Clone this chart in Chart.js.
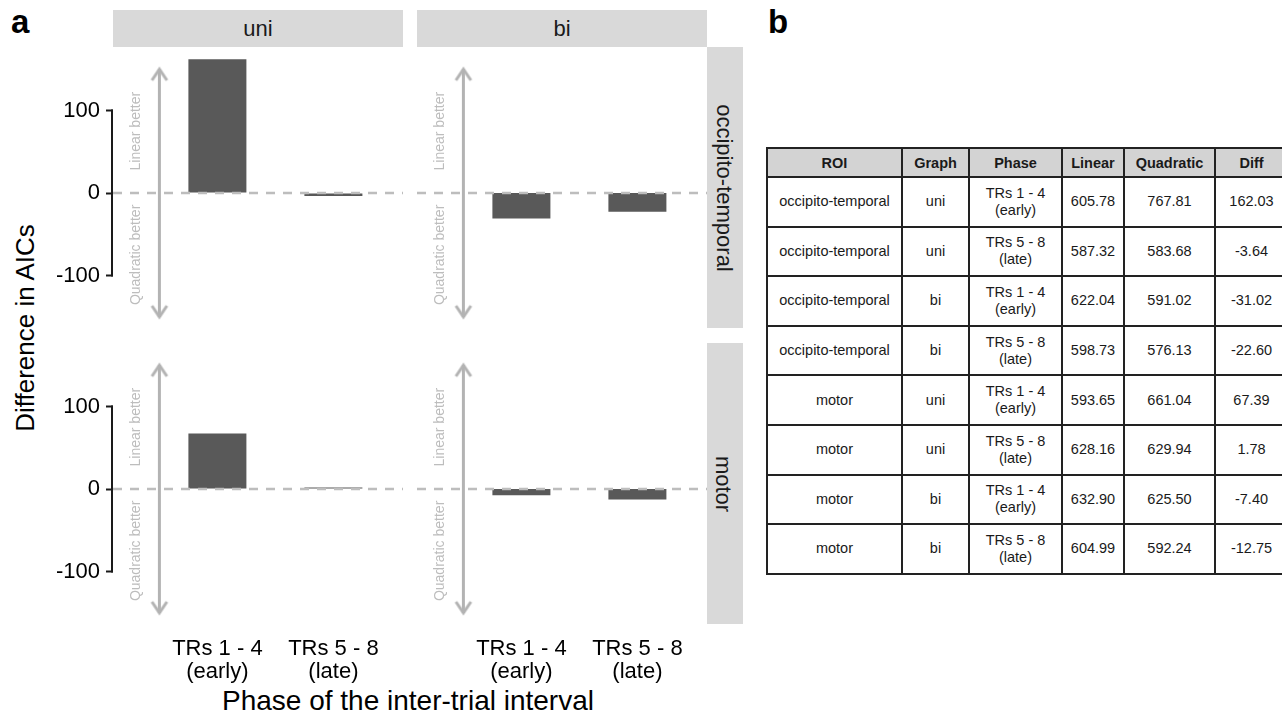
<!DOCTYPE html>
<html>
<head>
<meta charset="utf-8">
<script src="https://cdn.jsdelivr.net/npm/chart.js@4.4.1/dist/chart.umd.min.js"></script>
<style>
body { margin: 0; background: #fff; font-family: 'Liberation Sans', Arial, Helvetica, sans-serif; }
#fig { position: relative; width: 1282px; height: 716px; overflow: hidden; }
#fig canvas { position: absolute; }
.tag { position: absolute; font-size: 33px; font-weight: bold; line-height: 33px; color: #000; }
.strip { position: absolute; background: #d9d9d9; color: #1a1a1a; font-size: 22px;
         display: flex; align-items: center; justify-content: center; }
.strip.v span { transform: rotate(90deg); white-space: nowrap; margin-left: -3px; }
.title { position: absolute; color: #000; text-align: center; white-space: nowrap; }
#tbl { position: absolute; left: 766px; top: 147px; width: 521px; border-collapse: collapse; table-layout: fixed;
       font-size: 14.5px; color: #1a1a1a; }
#tbl th, #tbl td { border: 2px solid #222; text-align: center; padding: 0; }
#tbl th { background: #d3d3d3; font-weight: bold; }
#tbl tr.head { height: 29px; }
#tbl tr.row { height: 49.6px; }
#tbl td { line-height: 17px; }
</style>
</head>
<body>
<div id="fig">
  <div class="tag" style="left:11px; top:5px;">a</div>
  <div class="tag" style="left:768px; top:5px;">b</div>
  <div class="title" style="left:208px; top:686px; width:400px; line-height:30px; font-size:28px;">Phase of the inter-trial interval</div>
  <div class="title" style="left:-175px; top:313px; width:400px; line-height:30px; font-size:26px; transform:rotate(-90deg);">Difference in AICs</div>
  <table id="tbl"></table>
</div>

<script>
// values (panel b table gives the exact numbers)
const rois = ['occipito-temporal', 'motor'];
const graphs = ['uni', 'bi'];
const phaseTicks = [['TRs 1 - 4', '(early)'], ['TRs 5 - 8', '(late)']];

const tableHeader = ['ROI', 'Graph', 'Phase', 'Linear', 'Quadratic', 'Diff'];
const tableRoi = ['occipito-temporal', 'occipito-temporal', 'occipito-temporal', 'occipito-temporal',
                  'motor', 'motor', 'motor', 'motor'];
const tableGraph = ['uni', 'uni', 'bi', 'bi', 'uni', 'uni', 'bi', 'bi'];
const tablePhase = ['TRs 1 - 4<br>(early)', 'TRs 5 - 8<br>(late)', 'TRs 1 - 4<br>(early)', 'TRs 5 - 8<br>(late)',
                    'TRs 1 - 4<br>(early)', 'TRs 5 - 8<br>(late)', 'TRs 1 - 4<br>(early)', 'TRs 5 - 8<br>(late)'];
const linearAIC = [605.78, 587.32, 622.04, 598.73, 593.65, 628.16, 632.90, 604.99];
const quadraticAIC = [767.81, 583.68, 591.02, 576.13, 661.04, 629.94, 625.50, 592.24];
const aicDiff = [162.03, -3.64, -31.02, -22.60, 67.39, 1.78, -7.40, -12.75];

const yTicks = [-100, 0, 100];
const yRange = [-163.6, 177];
const xRange = [0.1, 2.6];
const barX = [1, 2];
const arrowX = 0.5;
const arrowY = [-150, 150];
const betterLabels = ['Linear better', 'Quadratic better'];
const betterX = 0.3;
const betterY = [75, -75];

// layout of the facet grid
const panelLeft = [113, 417];
const panelTop = [47, 343];
const panelW = 290, panelH = 281;
const yAxisW = 83, xAxisH = 63;
const stripH = 37, stripW = 36;
const font = "'Liberation Sans', Arial, Helvetica, sans-serif";

Chart.defaults.font.family = font;
Chart.defaults.color = '#000';

const fig = document.getElementById('fig');

// open arrow heads used as point images, tip sits on the image centre
function chevron(up) {
    const c = document.createElement('canvas');
    c.width = 30; c.height = 30;
    const g = c.getContext('2d');
    g.strokeStyle = '#b3b3b3';
    g.lineWidth = 3;
    g.beginPath();
    const d = up ? 11 : -11;
    g.moveTo(7.5, 15 + d);
    g.lineTo(15, 15);
    g.lineTo(22.5, 15 + d);
    g.stroke();
    return c;
}
const arrowHeads = [chevron(false), chevron(true)];

const panelDecor = {
    id: 'panelDecor',
    afterDatasetsDraw(chart, args, opts) {
        const { ctx, chartArea, scales } = chart;
        const x = scales.x, y = scales.y;
        ctx.save();
        ctx.fillStyle = '#bdbdbd';
        ctx.font = '14px ' + font;
        ctx.textAlign = 'center';
        ctx.textBaseline = 'middle';
        betterLabels.forEach((t, i) => {
            ctx.save();
            ctx.translate(x.getPixelForValue(betterX), y.getPixelForValue(betterY[i]));
            ctx.rotate(-Math.PI / 2);
            ctx.fillText(t, 0, 0);
            ctx.restore();
        });
        if (opts.frame) {
            ctx.strokeStyle = '#1a1a1a';
            ctx.lineWidth = 2;
            ctx.beginPath();
            ctx.moveTo(chartArea.left - 1, y.getPixelForValue(yTicks[yTicks.length - 1]) - 1);
            ctx.lineTo(chartArea.left - 1, y.getPixelForValue(yTicks[0]) + 1);
            ctx.stroke();
        }
        ctx.restore();
    }
};

rois.forEach((roi, r) => {
    graphs.forEach((graph, c) => {
        const showY = c === 0;
        const showX = r === rois.length - 1;
        const first = r * 4 + c * 2;
        const axisW = showY ? yAxisW : 0;
        const axisH = showX ? xAxisH : 0;

        const canvas = document.createElement('canvas');
        canvas.width = panelW + axisW;
        canvas.height = panelH + axisH;
        canvas.style.left = (panelLeft[c] - axisW) + 'px';
        canvas.style.top = panelTop[r] + 'px';
        fig.appendChild(canvas);

        new Chart(canvas, {
            type: 'bar',
            data: {
                datasets: [
                    {
                        data: barX.map((v, i) => ({ x: v, y: aicDiff[first + i] })),
                        backgroundColor: '#595959',
                        barPercentage: 0.5,
                        categoryPercentage: 1,
                        order: 3
                    },
                    {
                        type: 'line',
                        data: [{ x: xRange[0], y: 0 }, { x: xRange[1], y: 0 }],
                        borderColor: '#bdbdbd',
                        borderWidth: 2.5,
                        borderDash: [9, 8],
                        pointRadius: 0,
                        order: 1
                    },
                    {
                        type: 'line',
                        data: arrowY.map(v => ({ x: arrowX, y: v })),
                        borderColor: '#b3b3b3',
                        borderWidth: 3,
                        pointStyle: arrowHeads,
                        pointRadius: 4,
                        order: 0
                    }
                ]
            },
            options: {
                responsive: false,
                animation: false,
                devicePixelRatio: 1,
                layout: { padding: 0, autoPadding: false },
                plugins: {
                    legend: { display: false },
                    tooltip: { enabled: false },
                    panelDecor: { frame: showY }
                },
                scales: {
                    x: {
                        type: 'linear',
                        display: showX,
                        min: xRange[0],
                        max: xRange[1],
                        offset: false,
                        grid: { display: false, drawTicks: false },
                        border: { display: false },
                        afterBuildTicks: s => { s.ticks = barX.map(v => ({ value: v })); },
                        afterFit: s => { s.height = axisH; s.paddingLeft = 0; s.paddingRight = 0; },
                        ticks: {
                            padding: 13,
                            autoSkip: false,
                            maxRotation: 0,
                            font: { size: 22, lineHeight: 1.05 },
                            color: '#000',
                            callback: (v, i) => phaseTicks[i]
                        }
                    },
                    y: {
                        display: showY,
                        min: yRange[0],
                        max: yRange[1],
                        grid: { display: true, drawOnChartArea: false, drawTicks: true,
                                tickLength: 7, tickWidth: 2, tickColor: '#1a1a1a' },
                        border: { display: false },
                        afterBuildTicks: s => { s.ticks = yTicks.map(v => ({ value: v })); },
                        afterFit: s => { s.width = axisW; s.paddingTop = 0; s.paddingBottom = 0; },
                        ticks: {
                            padding: 6,
                            font: { size: 22 },
                            color: '#000',
                            callback: v => String(v)
                        }
                    }
                }
            },
            plugins: [panelDecor]
        });
    });
});

// facet strips
graphs.forEach((g, c) => {
    const d = document.createElement('div');
    d.className = 'strip';
    d.style.cssText = `left:${panelLeft[c]}px; top:${panelTop[0] - stripH}px; width:${panelW}px; height:${stripH}px;`;
    d.textContent = g;
    fig.appendChild(d);
});
rois.forEach((roi, r) => {
    const d = document.createElement('div');
    d.className = 'strip v';
    d.style.cssText = `left:${panelLeft[1] + panelW}px; top:${panelTop[r]}px; width:${stripW}px; height:${panelH}px;`;
    d.innerHTML = `<span>${roi}</span>`;
    fig.appendChild(d);
});

// panel b table
const colW = [135, 67, 93, 62, 91, 73];
let html = '<colgroup>' + colW.map(w => `<col style="width:${w}px">`).join('') + '</colgroup>';
html += '<tr class="head">' + tableHeader.map(h => `<th>${h}</th>`).join('') + '</tr>';
tableRoi.forEach((roi, i) => {
    html += `<tr class="row"><td>${roi}</td><td>${tableGraph[i]}</td><td>${tablePhase[i]}</td>` +
        `<td>${linearAIC[i].toFixed(2)}</td><td>${quadraticAIC[i].toFixed(2)}</td><td>${aicDiff[i].toFixed(2)}</td></tr>`;
});
document.getElementById('tbl').innerHTML = html;
</script>
</body>
</html>
